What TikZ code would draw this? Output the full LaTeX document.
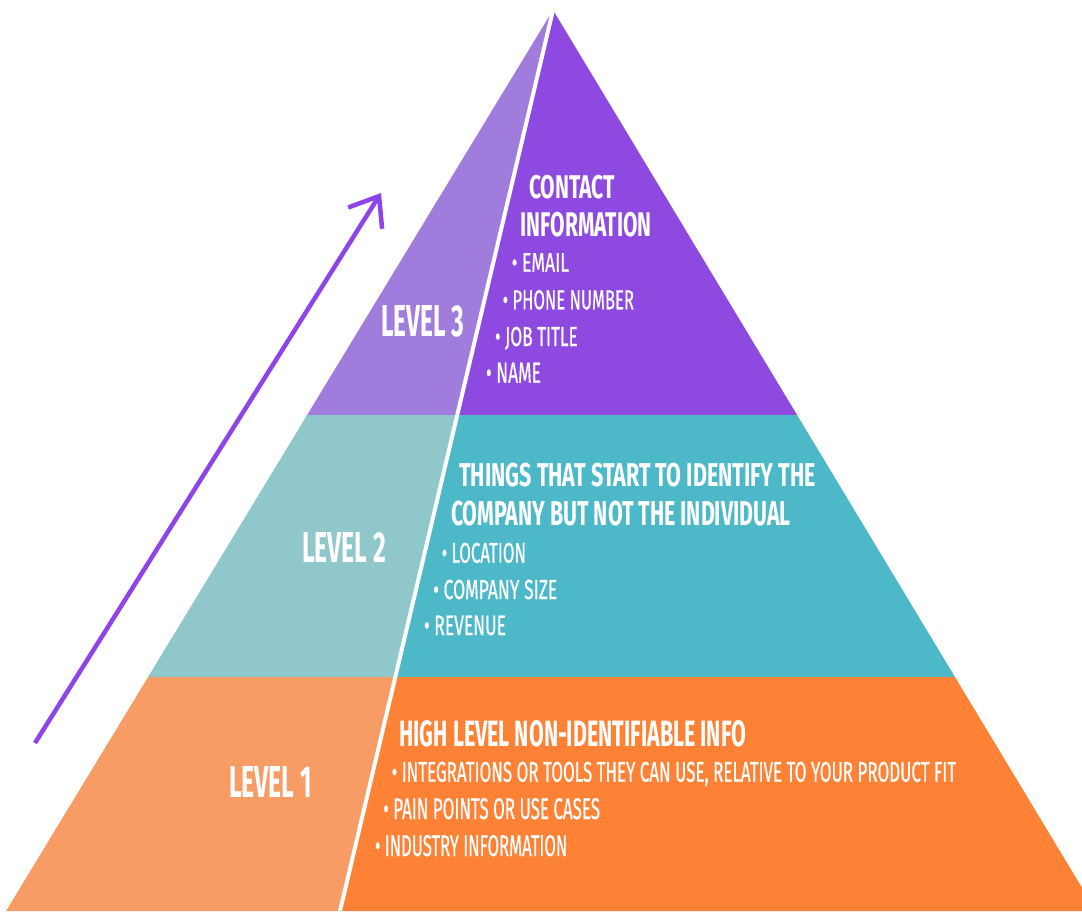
\documentclass[tikz,border=0pt]{standalone}
\usepackage{fontspec}
\usepackage{graphicx}
\usetikzlibrary{arrows.meta}
\newfontfamily\fira{Fira Sans}
\newfontfamily\firam{Fira Sans}[FakeBold=0.8]
\newcommand\fitw[3]{\resizebox{#1pt}{#2pt}{#3}}
\definecolor{cthreeL}{HTML}{A07CDC}
\definecolor{cthreeR}{HTML}{8E4AE0}
\definecolor{ctwoL}{HTML}{8FC7CA}
\definecolor{ctwoR}{HTML}{4DB9C8}
\definecolor{coneL}{HTML}{F89C65}
\definecolor{coneR}{HTML}{FE8235}
\definecolor{arrowc}{HTML}{8E44E8}
\tikzset{
  txt/.style={anchor=base west, inner sep=0pt, outer sep=0pt, text=white, font=\firam},
  hd/.style={txt, font=\fira\bfseries},
  splitline/.style={white, line width=4pt},
  risearrow/.style={arrowc, line width=4.5pt, -{Straight Barb[length=26pt, width=40pt, line width=4.5pt]}}
}
\begin{document}
\begin{tikzpicture}[x=1pt,y=-1pt]
\path[use as bounding box, fill=white] (0,0) rectangle (1082,911);
\clip (0,0) rectangle (1082,911);
% left half of pyramid
\begin{scope}
  \clip (553,10) -- (6,911) -- (340,911) -- cycle;
  \fill[cthreeL] (0,0) rectangle (1082,415);
  \fill[ctwoL] (0,415) rectangle (1082,677);
  \fill[coneL] (0,677) rectangle (1082,912);
\end{scope}
% right half of pyramid
\begin{scope}
  \clip (553,10) -- (340,911) -- (1096,911) -- cycle;
  \fill[cthreeR] (0,0) rectangle (1082,415);
  \fill[ctwoR] (0,415) rectangle (1082,677);
  \fill[coneR] (0,677) rectangle (1082,912);
\end{scope}
\coordinate (apex) at (553,10);
\coordinate (splitbase) at (340,911);
\draw[splitline] (apex) -- (splitbase);
% arrow
\coordinate (arrS) at (35,743);
\coordinate (arrE) at (381,193);
\draw[risearrow] (arrS) -- (arrE);
% level labels
\node[hd] (lv3) at (381,336) {\fitw{83}{31}{LEVEL 3}};
\node[hd] (lv2) at (302,562) {\fitw{84}{30}{LEVEL 2}};
\node[hd] (lv1) at (229,797) {\fitw{83}{31}{LEVEL 1}};
% level 3
\node[hd] (t3a) at (529,198.3) {\fitw{86}{23.3}{CONTACT}};
\node[hd] (t3b) at (520.7,236) {\fitw{131}{24.3}{INFORMATION}};
\node[txt] (b3a) at (511.7,271.7) {\fitw{57.3}{18.5}{• EMAIL}};
\node[txt] (b3b) at (502.7,309.3) {\fitw{131.3}{19.3}{• PHONE NUMBER}};
\node[txt] (b3c) at (495,346) {\fitw{82.7}{19.3}{• JOB TITLE}};
\node[txt] (b3d) at (486,382.7) {\fitw{55}{20}{• NAME}};
% level 2
\node[hd] (t2a) at (459.3,486.7) {\fitw{356.7}{23.4}{THINGS THAT START TO IDENTIFY THE}};
\node[hd] (t2b) at (451,525) {\fitw{339.7}{24.5}{COMPANY BUT NOT THE INDIVIDUAL}};
\node[txt] (b2a) at (441.7,562.7) {\fitw{84.3}{20}{• LOCATION}};
\node[txt] (b2b) at (433.3,599) {\fitw{124}{19.3}{• COMPANY SIZE}};
\node[txt] (b2c) at (424,635) {\fitw{82}{19.3}{• REVENUE}};
% level 1
\node[hd] (t1a) at (399.3,746) {\fitw{346.7}{26}{HIGH LEVEL NON-IDENTIFIABLE INFO}};
\node[txt] (b1a) at (391.7,781.7) {\fitw{564.3}{20}{• INTEGRATIONS OR TOOLS THEY CAN USE, RELATIVE TO YOUR PRODUCT FIT}};
\node[txt] (b1b) at (383.3,819) {\fitw{216.7}{21}{• PAIN POINTS OR USE CASES}};
\node[txt] (b1c) at (375,856) {\fitw{192.3}{21}{• INDUSTRY INFORMATION}};
\end{tikzpicture}
\end{document}
